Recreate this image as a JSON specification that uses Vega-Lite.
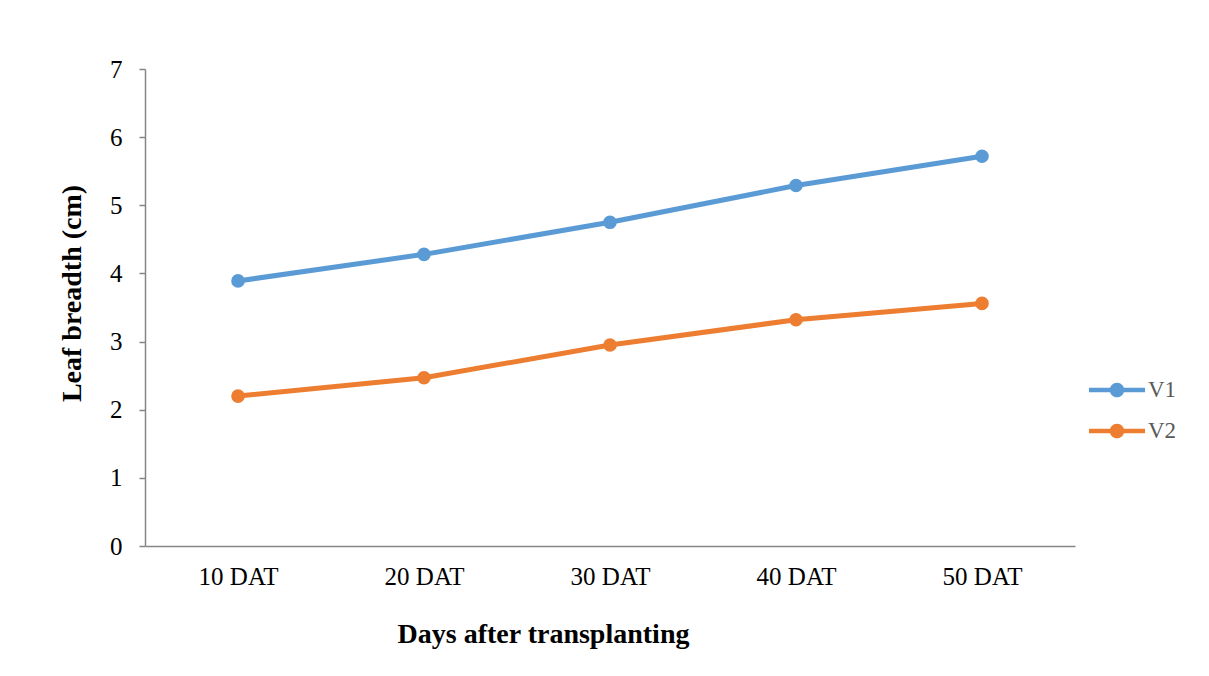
{
  "$schema": "https://vega.github.io/schema/vega-lite/v6.json",
  "autosize": "none",
  "width": 930,
  "height": 477,
  "padding": {"left": 145, "top": 69, "right": 134, "bottom": 130},
  "background": "white",
  "config": {
    "view": {"stroke": null},
    "font": "Liberation Serif"
  },
  "data": {
    "values": [
      {"day": "10 DAT", "series": "V1", "breadth": 3.89},
      {"day": "20 DAT", "series": "V1", "breadth": 4.28},
      {"day": "30 DAT", "series": "V1", "breadth": 4.75},
      {"day": "40 DAT", "series": "V1", "breadth": 5.29},
      {"day": "50 DAT", "series": "V1", "breadth": 5.72},
      {"day": "10 DAT", "series": "V2", "breadth": 2.2},
      {"day": "20 DAT", "series": "V2", "breadth": 2.47},
      {"day": "30 DAT", "series": "V2", "breadth": 2.95},
      {"day": "40 DAT", "series": "V2", "breadth": 3.32},
      {"day": "50 DAT", "series": "V2", "breadth": 3.56}
    ]
  },
  "encoding": {
    "x": {
      "field": "day",
      "type": "ordinal",
      "sort": ["10 DAT", "20 DAT", "30 DAT", "40 DAT", "50 DAT"],
      "scale": {"type": "point", "padding": 0.5},
      "axis": {
        "title": "Days after transplanting",
        "titleFont": "Liberation Serif",
        "titleFontSize": 28,
        "titleFontWeight": "bold",
        "titleColor": "black",
        "titlePadding": 31,
        "titleX": 398,
        "titleAlign": "center",
        "labelFont": "Liberation Serif",
        "labelFontSize": 25,
        "labelColor": "black",
        "labelPadding": 18,
        "labelAngle": 0,
        "ticks": false,
        "domainColor": "#868686",
        "domainWidth": 1.5,
        "grid": false
      }
    },
    "y": {
      "field": "breadth",
      "type": "quantitative",
      "scale": {"domain": [0, 7], "nice": false, "zero": true},
      "axis": {
        "title": "Leaf breadth (cm)",
        "titleFont": "Liberation Serif",
        "titleFontSize": 28,
        "titleFontWeight": "bold",
        "titleColor": "black",
        "titlePadding": 23,
        "titleY": 224,
        "titleAlign": "center",
        "labelFont": "Liberation Serif",
        "labelFontSize": 25,
        "labelColor": "black",
        "labelPadding": 17,
        "values": [0, 1, 2, 3, 4, 5, 6, 7],
        "tickSize": 6,
        "tickColor": "#868686",
        "tickWidth": 1.5,
        "domainColor": "#868686",
        "domainWidth": 1.5,
        "grid": false
      }
    },
    "color": {
      "field": "series",
      "type": "nominal",
      "scale": {"domain": ["V1", "V2"], "range": ["#5B9BD5", "#ED7D31"]},
      "legend": {
        "title": null,
        "orient": "none",
        "legendX": 958,
        "legendY": 307,
        "padding": 0,
        "rowPadding": 15,
        "symbolType": "M-2,-0.16H2V0.16H-2Z M0.52,0A0.52,0.52 0 1 1 -0.52,0A0.52,0.52 0 1 1 0.52,0Z",
        "symbolSize": 784,
        "symbolStrokeWidth": 0,
        "labelOffset": 17,
        "labelFont": "Liberation Serif",
        "labelFontSize": 23,
        "labelColor": "#595959",
        "encode": {
          "symbols": {
            "update": {
              "fill": {"scale": "color", "field": "value"},
              "stroke": {"value": "transparent"},
              "opacity": {"value": 1},
              "fillOpacity": {"value": 1}
            }
          }
        }
      }
    }
  },
  "mark": {
    "type": "line",
    "strokeWidth": 5,
    "point": {"size": 185, "filled": true, "opacity": 1}
  }
}
